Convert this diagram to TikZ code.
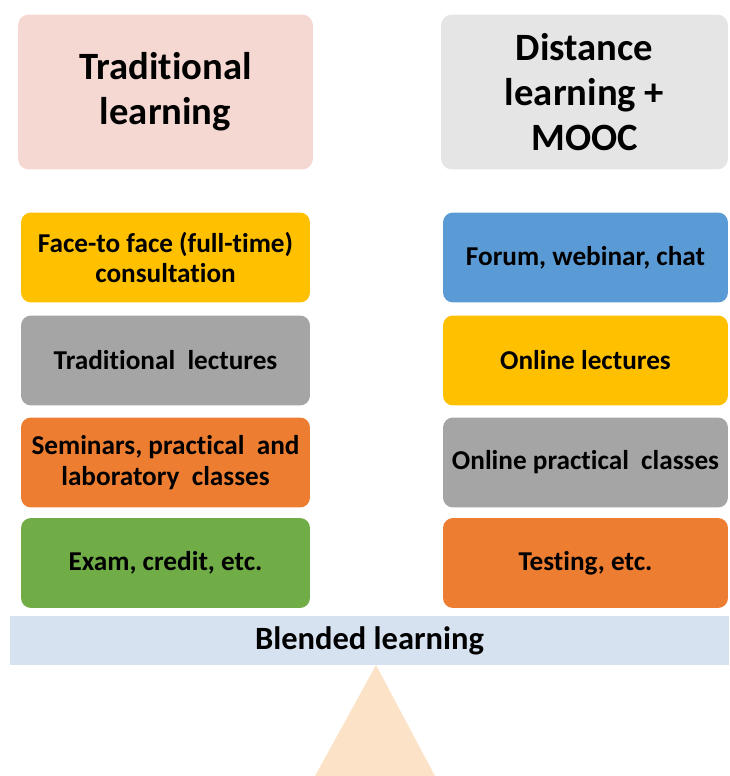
\documentclass[tikz,border=0pt]{standalone}
\usepackage{fontspec}
\setmainfont{Carlito}[Ligatures=NoCommon]
\usepackage{tikz}
\usetikzlibrary{positioning}
\usepackage{xcolor}

\definecolor{tradpink}{HTML}{F6D8D2}
\definecolor{distgray}{HTML}{E5E5E5}
\definecolor{boxyellow}{HTML}{FFC000}
\definecolor{boxgray}{HTML}{A5A5A5}
\definecolor{boxorange}{HTML}{ED7D31}
\definecolor{boxgreen}{HTML}{70AD47}
\definecolor{boxblue}{HTML}{5B9BD5}
\definecolor{blendblue}{HTML}{D7E2F1}
\definecolor{basepeach}{HTML}{FCE3C8}

\begin{document}
\begin{tikzpicture}[x=0.02cm, y=-0.02cm,
  headbox/.style={rounded corners=0.22cm, minimum height=3.1cm, align=center,
    font=\fontsize{22}{25.5}\selectfont\bfseries},
  itembox/.style={rounded corners=0.2cm, minimum height=1.8cm, align=center,
    font=\fontsize{15.5}{17.5}\selectfont\bfseries},
  leftbox/.style={itembox, minimum width=5.78cm},
  rightbox/.style={itembox, minimum width=5.7cm}]

\useasboundingbox (0,0) rectangle (729,776);

% heads
\node[headbox, fill=tradpink, minimum width=5.9cm] (trad) at (165.5,92)
{Traditional\\learning};
\node[headbox, fill=distgray, minimum width=5.74cm] (dist) at (584.5,92)
{Distance\\learning +\\MOOC};

% left column
\node[leftbox, fill=boxyellow] (facetoface) at (165.5,257.5)
{Face-to face (full-time)\\consultation};
\node[leftbox, fill=boxgray] (tradlect) at (165.5,360.5)
{Traditional\ \ lectures};
\node[leftbox, fill=boxorange] (seminars) at (165.5,462.5)
{Seminars, practical\ \ and\\laboratory\ \ classes};
\node[leftbox, fill=boxgreen] (exam) at (165.5,563)
{Exam, credit, etc.};

% right column
\node[rightbox, fill=boxblue] (forum) at (585.5,257.5)
{Forum, webinar, chat};
\node[rightbox, fill=boxyellow] (onlect) at (585.5,360.5)
{Online lectures};
\node[rightbox, fill=boxgray] (onprac) at (585.5,462.5)
{Online practical\ \ classes};
\node[rightbox, fill=boxorange] (testing) at (585.5,563)
{Testing, etc.};

% base
\node[fill=blendblue, minimum width=14.38cm, minimum height=0.98cm,
  font=\fontsize{18.5}{21}\selectfont\bfseries] (blend) at (369.5,640.5)
{Blended learning};

\fill[basepeach] (376,665) -- (435,776) -- (315,776) -- cycle;

\end{tikzpicture}
\end{document}
